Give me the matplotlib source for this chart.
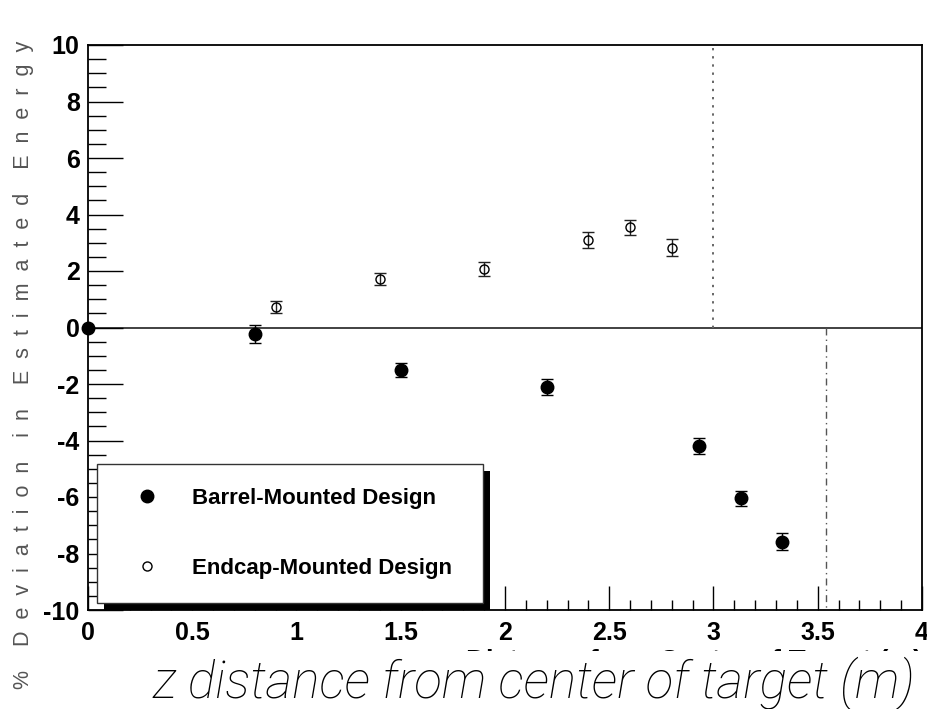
import matplotlib.pyplot as plt
from matplotlib.patches import Rectangle

plt.rcParams["axes.unicode_minus"] = False

# barrel-mounted design
barrel_z = [0.0, 0.80, 1.50, 2.20, 2.93, 3.13, 3.33]
barrel_dev = [0.0, -0.22, -1.50, -2.10, -4.20, -6.05, -7.58]
barrel_err = [0.0, 0.32, 0.25, 0.28, 0.28, 0.28, 0.30]

# endcap-mounted design
endcap_z = [0.90, 1.40, 1.90, 2.40, 2.60, 2.80]
endcap_dev = [0.72, 1.72, 2.07, 3.10, 3.55, 2.83]
endcap_err = [0.22, 0.22, 0.24, 0.27, 0.27, 0.30]

barrel_edge = 3.0
endcap_edge = 3.54

ylabel_txt = "% Deviation in Estimated Energy"
xlabel_txt = "Distance from Center of Target (m)"
title_txt = "z distance from center of target (m)"


def spaced(s):
    return "    ".join("  ".join(w) for w in s.split(" "))


def make_plot():
    fig = plt.figure(figsize=(9.28, 7.09), dpi=100)
    fig.patch.set_facecolor("white")
    ax = fig.add_axes([88/928, 99/709, 834/928, 565/709])

    ax.set_xlim(0, 4)
    ax.set_ylim(-10, 10)

    ax.axhline(0, color="#333333", lw=1.3, zorder=1)
    ax.plot([barrel_edge, barrel_edge], [0, 10], color="#666666", ls=(0, (1.2, 3)), lw=1.4, zorder=1)
    ax.plot([endcap_edge, endcap_edge], [0, -10], color="#555555", ls=(0, (5, 3, 1, 3)), lw=1.0, zorder=1)

    b = ax.errorbar(barrel_z, barrel_dev, yerr=barrel_err, fmt="o", ms=9, color="black",
                    mfc="black", mec="black", ecolor="black", elinewidth=1, capsize=4,
                    capthick=1, label="Barrel-Mounted Design", zorder=3, clip_on=False)
    e = ax.errorbar(endcap_z, endcap_dev, yerr=endcap_err, fmt="o", ms=6.5, color="black",
                    mfc="none", mec="black", mew=1.0, ecolor="#222222", elinewidth=1,
                    capsize=4, capthick=1, label="Endcap-Mounted Design", zorder=3)

    ax.set_xticks([0, 0.5, 1, 1.5, 2, 2.5, 3, 3.5, 4])
    ax.set_xticklabels(["0", "0.5", "1", "1.5", "2", "2.5", "3", "3.5", "4"])
    ax.set_xticks([i * 0.1 for i in range(41)], minor=True)
    ax.set_yticks([-10, -8, -6, -4, -2, 0, 2, 4, 6, 8, 10])
    ax.set_yticks([-10 + i * 0.5 for i in range(41)], minor=True)
    ax.tick_params(axis="x", which="major", direction="in", length=17, width=1, pad=8,
                   labelsize=18, top=False)
    ax.tick_params(axis="x", which="minor", direction="in", length=7, width=1, top=False)
    ax.tick_params(axis="y", which="major", direction="in", length=25, width=1, pad=6,
                   labelsize=18, right=False)
    ax.tick_params(axis="y", which="minor", direction="in", length=13, width=1, right=False)
    for lab in ax.get_xticklabels() + ax.get_yticklabels():
        lab.set_fontweight("bold")
        lab.set_family("Liberation Sans")
    for sp in ax.spines.values():
        sp.set_linewidth(1.3)
        sp.set_color("black")

    ax.set_xlabel(xlabel_txt, fontsize=20, fontweight="bold", family="Liberation Sans",
                  loc="right", labelpad=3)

    leg = ax.legend(handles=[b.lines[0], e.lines[0]], labels=[b.get_label(), e.get_label()],
                    loc="lower left", bbox_to_anchor=(0.0108, 0.0124, 0.4628, 0.25),
                    mode="expand", fancybox=False, framealpha=1, edgecolor="#333333",
                    borderpad=1.1, labelspacing=2.18, handlelength=2.3, handletextpad=0.86,
                    numpoints=1, prop={"family": "Liberation Sans", "weight": "bold", "size": 16},
                    borderaxespad=0)
    leg.get_frame().set_linewidth(1.0)
    leg.set_zorder(5)

    # solid black drop shadow behind the legend box
    fig.canvas.draw()
    bb = leg.get_window_extent()
    sh = Rectangle((bb.x0 + 7, bb.y0 - 7), bb.width, bb.height, transform=None,
                   facecolor="black", edgecolor="none", zorder=4)
    ax.add_artist(sh)

    # white band hides most of the axis title under the big caption
    fig.patches.append(Rectangle((0.1, 0), 0.9, 58/709, transform=fig.transFigure,
                                 facecolor="white", edgecolor="none", zorder=2))

    fig.text(24/928, 344/709, spaced(ylabel_txt), rotation=90, ha="center", va="center",
             fontsize=15.5, color="#555555", family="Liberation Sans")
    fig.text(915/928, 11/709, title_txt, ha="right", va="baseline", fontsize=37,
             family="Roboto", fontweight="light", style="italic", color="black")

    fig.savefig("out.png", dpi=100, facecolor="white")


if __name__ == "__main__":
    make_plot()
